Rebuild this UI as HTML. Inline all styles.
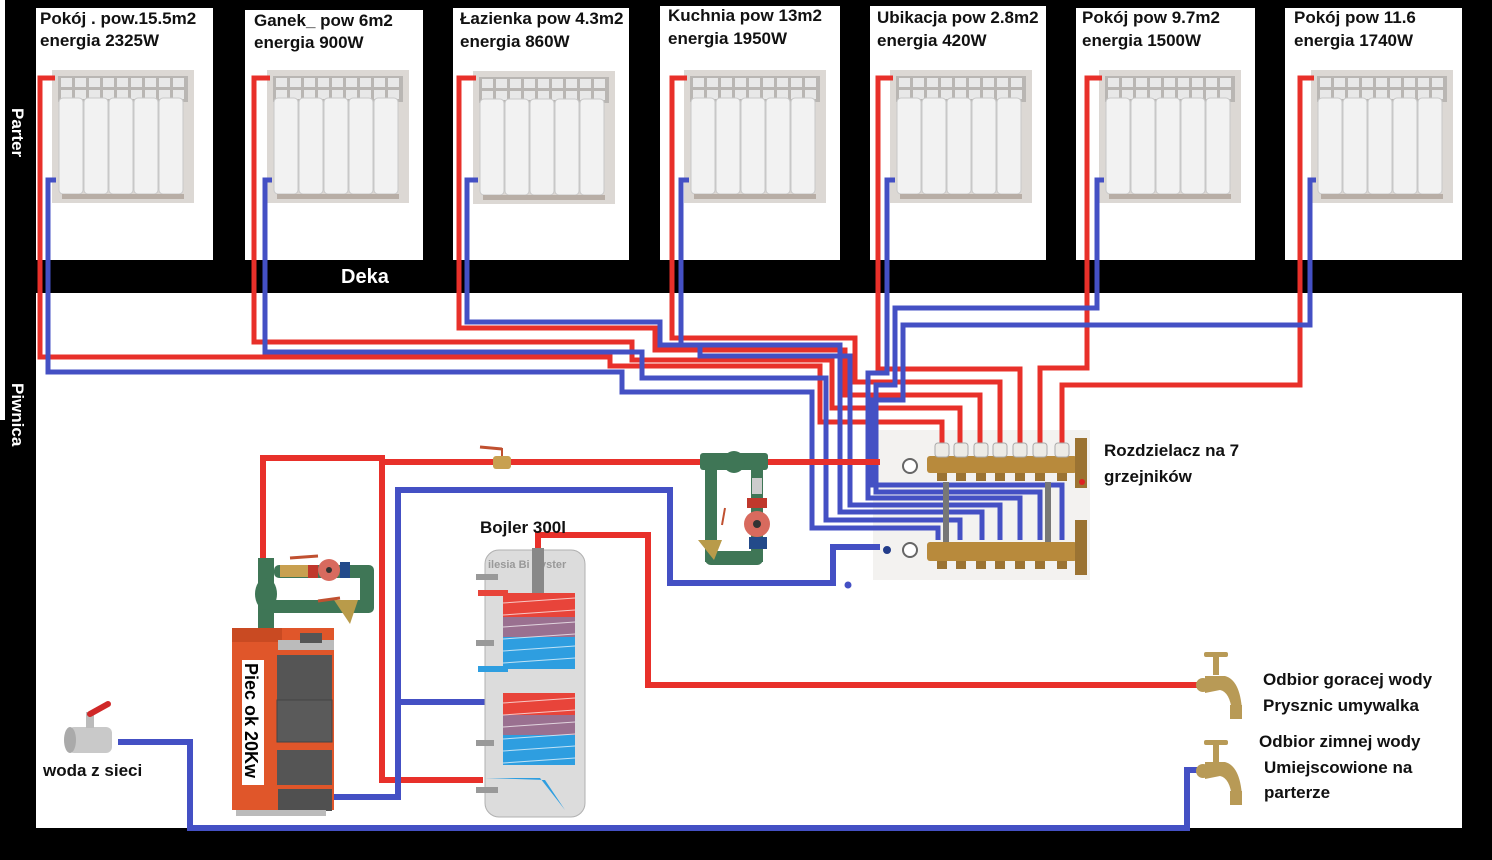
<!DOCTYPE html>
<html><head><meta charset="utf-8"><style>
html,body{margin:0;padding:0;background:#000;}
svg{display:block;}
text{font-family:"Liberation Sans",sans-serif;font-weight:bold;}
</style></head><body>
<svg width="1492" height="860" viewBox="0 0 1492 860" xmlns="http://www.w3.org/2000/svg">
<defs>
<g id="rad">
  <rect x="0" y="0" width="142" height="133" fill="#dcd8d4"/>
  <rect x="6" y="6" width="130" height="26" fill="#b9b6b3"/>
  <g fill="#e8e8e8">
    <rect x="9" y="8" width="11" height="9"/><rect x="23" y="8" width="11" height="9"/><rect x="37" y="8" width="11" height="9"/><rect x="51" y="8" width="11" height="9"/><rect x="65" y="8" width="11" height="9"/><rect x="79" y="8" width="11" height="9"/><rect x="93" y="8" width="11" height="9"/><rect x="107" y="8" width="11" height="9"/><rect x="121" y="8" width="11" height="9"/>
    <rect x="9" y="20" width="11" height="9"/><rect x="23" y="20" width="11" height="9"/><rect x="37" y="20" width="11" height="9"/><rect x="51" y="20" width="11" height="9"/><rect x="65" y="20" width="11" height="9"/><rect x="79" y="20" width="11" height="9"/><rect x="93" y="20" width="11" height="9"/><rect x="107" y="20" width="11" height="9"/><rect x="121" y="20" width="11" height="9"/>
  </g>
  <g fill="#f2f2f2" stroke="#c8c8c8" stroke-width="1">
    <rect x="7" y="28" width="24" height="96" rx="4"/><rect x="32" y="28" width="24" height="96" rx="4"/><rect x="57" y="28" width="24" height="96" rx="4"/><rect x="82" y="28" width="24" height="96" rx="4"/><rect x="107" y="28" width="24" height="96" rx="4"/>
  </g>
  <rect x="10" y="124" width="122" height="5" fill="#b8aea6"/>
</g>
</defs>

<!-- white areas -->
<rect x="0" y="0" width="5" height="420" fill="#fff"/>
<rect x="36" y="8" width="177" height="252" fill="#fff"/>
<rect x="245" y="10" width="178" height="250" fill="#fff"/>
<rect x="453" y="8" width="176" height="252" fill="#fff"/>
<rect x="660" y="6" width="180" height="254" fill="#fff"/>
<rect x="870" y="6" width="176" height="254" fill="#fff"/>
<rect x="1076" y="8" width="179" height="252" fill="#fff"/>
<rect x="1285" y="8" width="177" height="252" fill="#fff"/>
<rect x="36" y="293" width="1426" height="535" fill="#fff"/>

<text x="341" y="283" fill="#fff" font-size="20">Deka</text>
<text transform="translate(12,108) rotate(90)" fill="#fff" font-size="17">Parter</text>
<text transform="translate(12,383) rotate(90)" fill="#fff" font-size="17">Piwnica</text>

<!-- labels -->
<g font-size="17" fill="#111">
<text x="40" y="24">Pokój  . pow.15.5m2</text><text x="40" y="46">energia 2325W</text>
<text x="254" y="26">Ganek_ pow 6m2</text><text x="254" y="48">energia 900W</text>
<text x="460" y="24">Łazienka pow 4.3m2</text><text x="460" y="47">energia 860W</text>
<text x="668" y="21">Kuchnia pow 13m2</text><text x="668" y="44">energia 1950W</text>
<text x="877" y="23">Ubikacja pow 2.8m2</text><text x="877" y="46">energia 420W</text>
<text x="1082" y="23">Pokój pow 9.7m2</text><text x="1082" y="46">energia 1500W</text>
<text x="1294" y="23">Pokój pow 11.6</text><text x="1294" y="46">energia 1740W</text>
</g>

<!-- radiators -->
<use href="#rad" x="52" y="70"/>
<use href="#rad" x="267" y="70"/>
<use href="#rad" x="473" y="71"/>
<use href="#rad" x="684" y="70"/>
<use href="#rad" x="890" y="70"/>
<use href="#rad" x="1099" y="70"/>
<use href="#rad" x="1311" y="70"/>

<!-- manifold background -->
<rect x="873" y="430" width="217" height="150" fill="#f3f2f0"/>

<!-- radiator pipes -->
<g fill="none" stroke-width="5" stroke-linejoin="miter">
<g stroke="#e8302a">
<polyline points="55,78 40,78 40,357 610,357 610,366 820,366 820,422 942,422 942,448"/>
<polyline points="270,78 254,78 254,342 632,342 632,360 832,360 832,408 960,408 960,448"/>
<polyline points="476,78 459,78 459,328 655,328 655,350 845,350 845,395 980,395 980,448"/>
<polyline points="687,78 672,78 672,338 855,338 855,382 1000,382 1000,448"/>
<polyline points="893,78 878,78 878,369 1020,369 1020,448"/>
<polyline points="1102,78 1087,78 1087,368 1040,368 1040,448"/>
<polyline points="1314,78 1300,78 1300,385 1062,385 1062,448"/>
</g>
<g stroke="#4450c4">
<polyline points="56,180 48,180 48,372 622,372 622,392 812,392 812,528 938,528 938,540"/>
<polyline points="272,180 265,180 265,352 642,352 642,378 826,378 826,520 960,520 960,540"/>
<polyline points="478,180 467,180 467,322 660,322 660,345 840,345 840,512 982,512 982,540"/>
<polyline points="689,180 681,180 681,345 700,345 700,356 850,356 850,505 1000,505 1000,540"/>
<polyline points="895,180 887,180 887,373 868,373 868,498 1020,498 1020,540"/>
<polyline points="1104,180 1097,180 1097,308 895,308 895,385 876,385 876,492 1040,492 1040,540"/>
<polyline points="1316,180 1310,180 1310,325 903,325 903,400 873,400 873,485 1062,485 1062,540"/>
</g>
</g>

<!-- manifold -->
<g>
<rect x="927" y="456" width="150" height="17" rx="3" fill="#b88a3c"/>
<rect x="927" y="542" width="150" height="19" rx="3" fill="#b88a3c"/>
<g fill="#ecebe6" stroke="#aaa" stroke-width="1">
<rect x="935" y="443" width="14" height="14" rx="3"/><rect x="954" y="443" width="14" height="14" rx="3"/><rect x="974" y="443" width="14" height="14" rx="3"/><rect x="993" y="443" width="14" height="14" rx="3"/><rect x="1013" y="443" width="14" height="14" rx="3"/><rect x="1033" y="443" width="14" height="14" rx="3"/><rect x="1055" y="443" width="14" height="14" rx="3"/>
</g>
<g fill="#9b7332">
<rect x="937" y="473" width="10" height="8"/><rect x="956" y="473" width="10" height="8"/><rect x="976" y="473" width="10" height="8"/><rect x="995" y="473" width="10" height="8"/><rect x="1015" y="473" width="10" height="8"/><rect x="1035" y="473" width="10" height="8"/><rect x="1057" y="473" width="10" height="8"/>
<rect x="937" y="561" width="10" height="8"/><rect x="956" y="561" width="10" height="8"/><rect x="976" y="561" width="10" height="8"/><rect x="995" y="561" width="10" height="8"/><rect x="1015" y="561" width="10" height="8"/><rect x="1035" y="561" width="10" height="8"/><rect x="1057" y="561" width="10" height="8"/>
<rect x="1075" y="438" width="12" height="50"/><rect x="1075" y="520" width="12" height="55"/>
</g>
<rect x="943" y="482" width="6" height="60" fill="#777"/><rect x="1045" y="482" width="6" height="60" fill="#777"/>
<circle cx="910" cy="466" r="7" fill="#fff" stroke="#666" stroke-width="2"/>
<circle cx="910" cy="550" r="7" fill="#fff" stroke="#666" stroke-width="2"/>
<circle cx="1082" cy="482" r="3" fill="#d22"/>
<circle cx="887" cy="550" r="4" fill="#223c8a"/>
</g>

<!-- main circuit pipes -->
<g fill="none" stroke-width="6">
<g stroke="#e8302a">
<polyline points="263,560 263,458 382,458 382,780 483,780"/>
<polyline points="382,462 880,462"/>
<polyline points="538,548 538,535 648,535 648,685 1200,685"/>
</g>
<g stroke="#4450c4">
<polyline points="330,797 398,797 398,490 670,490 670,583 833,583 833,547 880,547"/>
<polyline points="398,702 485,702"/>
<polyline points="118,742 190,742 190,828 1187,828 1187,770 1200,770"/>
</g>
</g>
<circle cx="848" cy="585" r="3.5" fill="#4450c4"/>

<!-- small valve on main -->
<rect x="493" y="456" width="18" height="13" rx="3" fill="#c8a050"/>
<line x1="502" y1="456" x2="502" y2="448" stroke="#c05030" stroke-width="2"/>
<line x1="480" y1="447" x2="502" y2="449" stroke="#c05030" stroke-width="3"/>

<!-- mixing group -->
<g fill="#3f7656">
<rect x="700" y="453" width="68" height="17" rx="3"/>
<circle cx="734" cy="462" r="11"/>
<rect x="705" y="462" width="12" height="100"/>
<rect x="751" y="462" width="12" height="100"/>
<rect x="705" y="551" width="58" height="14" rx="6"/>
</g>
<rect x="752" y="478" width="10" height="16" fill="#ccc"/>
<rect x="747" y="498" width="20" height="10" fill="#c0382c"/>
<circle cx="757" cy="524" r="13" fill="#d86a5e"/>
<circle cx="757" cy="524" r="4" fill="#333"/>
<rect x="749" y="537" width="18" height="12" fill="#234a8a"/>
<path d="M698 540 L722 540 L714 560 Z" fill="#b99b4a"/>
<line x1="722" y1="525" x2="725" y2="508" stroke="#c05030" stroke-width="2"/>

<!-- boiler pump group -->
<g fill="#3f7656">
<rect x="258" y="558" width="16" height="70"/>
<ellipse cx="266" cy="594" rx="11" ry="16"/>
<rect x="266" y="600" width="100" height="13"/>
<rect x="360" y="568" width="14" height="45" rx="5"/>
<rect x="274" y="565" width="100" height="13" rx="5"/>
</g>
<rect x="280" y="565" width="28" height="12" fill="#c8a050"/>
<rect x="308" y="565" width="10" height="13" fill="#c0382c"/>
<circle cx="329" cy="570" r="11" fill="#d86a5e"/>
<circle cx="329" cy="570" r="3" fill="#333"/>
<rect x="340" y="562" width="10" height="16" fill="#234a8a"/>
<path d="M334 600 L358 600 L350 624 Z" fill="#b99b4a"/>
<line x1="318" y1="601" x2="340" y2="598" stroke="#c05030" stroke-width="3"/>
<line x1="290" y1="558" x2="318" y2="556" stroke="#c05030" stroke-width="3"/>

<!-- boiler -->
<rect x="232" y="628" width="102" height="182" fill="#e0562a"/>
<rect x="232" y="628" width="50" height="14" fill="#c94a22"/>
<rect x="278" y="640" width="56" height="10" fill="#bbb"/>
<rect x="300" y="633" width="22" height="10" fill="#555"/>
<rect x="277" y="655" width="55" height="50" fill="#555"/>
<rect x="277" y="700" width="55" height="42" fill="#5a5a5a" stroke="#444"/>
<rect x="277" y="750" width="55" height="35" fill="#555"/>
<rect x="278" y="789" width="54" height="22" fill="#505050"/>
<rect x="242" y="660" width="22" height="125" fill="#fff"/>
<text transform="translate(245,663) rotate(90)" font-size="18" fill="#000">Piec ok 20Kw</text>
<rect x="236" y="810" width="90" height="6" fill="#bbb"/>

<!-- bojler tank -->
<text x="480" y="533" font-size="17" fill="#111">Bojler 300l</text>
<rect x="485" y="550" width="100" height="267" rx="14" fill="#dcdcdc" stroke="#b0b0b0"/>
<text x="488" y="568" font-size="11" fill="#999" font-weight="normal">ilesia Bi  Syster</text>
<rect x="532" y="548" width="12" height="50" fill="#888"/>
<g>
<rect x="503" y="593" width="72" height="24" fill="#e8443a"/>
<rect x="503" y="617" width="72" height="20" fill="#9a7090"/>
<rect x="503" y="637" width="72" height="32" fill="#2e9ee0"/>
<rect x="478" y="590" width="30" height="6" fill="#e8443a"/>
<rect x="478" y="666" width="30" height="6" fill="#2e9ee0"/>
<rect x="503" y="693" width="72" height="22" fill="#e8443a"/>
<rect x="503" y="715" width="72" height="20" fill="#9a7090"/>
<rect x="503" y="735" width="72" height="30" fill="#2e9ee0"/>
<path d="M485 778 L540 778 L565 810 L545 780 Z" fill="#2e9ee0"/>
<g stroke="#fff" stroke-width="1" opacity="0.7">
<line x1="503" y1="603" x2="575" y2="598"/><line x1="503" y1="615" x2="575" y2="610"/><line x1="503" y1="627" x2="575" y2="622"/><line x1="503" y1="639" x2="575" y2="634"/><line x1="503" y1="651" x2="575" y2="646"/><line x1="503" y1="663" x2="575" y2="658"/>
<line x1="503" y1="703" x2="575" y2="698"/><line x1="503" y1="715" x2="575" y2="710"/><line x1="503" y1="727" x2="575" y2="722"/><line x1="503" y1="739" x2="575" y2="734"/><line x1="503" y1="751" x2="575" y2="746"/><line x1="503" y1="763" x2="575" y2="758"/>
</g>
</g>
<g fill="#999"><rect x="476" y="574" width="22" height="6"/><rect x="476" y="640" width="18" height="6"/><rect x="476" y="740" width="18" height="6"/><rect x="476" y="787" width="22" height="6"/></g>

<!-- cold water source valve -->
<rect x="68" y="727" width="44" height="26" rx="6" fill="#c9c9c9"/>
<ellipse cx="70" cy="740" rx="6" ry="13" fill="#aaa"/>
<rect x="86" y="712" width="8" height="16" fill="#bbb"/>
<line x1="90" y1="714" x2="108" y2="704" stroke="#d02828" stroke-width="6" stroke-linecap="round"/>
<text x="43" y="776" font-size="17" fill="#111">woda z sieci</text>

<!-- taps -->
<g fill="#b89a56">
<rect x="1204" y="652" width="24" height="5" rx="2"/><rect x="1213" y="655" width="6" height="20"/>
<circle cx="1203" cy="685" r="7"/><path d="M1205 676 L1225 676 Q1240 680 1242 710 L1232 712 Q1230 692 1220 690 L1205 693 Z"/>
<rect x="1230" y="705" width="12" height="14"/>
<rect x="1204" y="740" width="24" height="5" rx="2"/><rect x="1213" y="743" width="6" height="20"/>
<circle cx="1203" cy="771" r="7"/><path d="M1205 762 L1225 762 Q1240 766 1242 796 L1232 798 Q1230 778 1220 776 L1205 779 Z"/>
<rect x="1230" y="791" width="12" height="14"/>
</g>
<g font-size="17" fill="#111">
<text x="1263" y="685">Odbior goracej wody</text>
<text x="1263" y="711">Prysznic umywalka</text>
<text x="1259" y="747">Odbior zimnej wody</text>
<text x="1264" y="773">Umiejscowione na</text>
<text x="1264" y="798">parterze</text>
<text x="1104" y="456">Rozdzielacz na 7</text>
<text x="1104" y="482">grzejników</text>
</g>
</svg>
</body></html>
